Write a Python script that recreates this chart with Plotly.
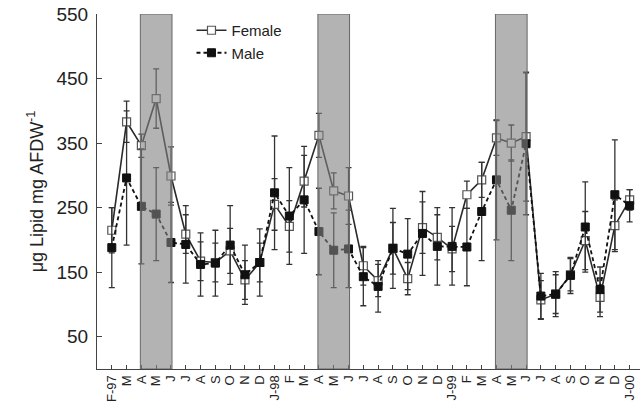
import plotly.graph_objects as go

months = ["F-97","M","A","M","J","J","A","S","O","N","D","J-98",
          "F","M","A","M","J","J","A","S","O","N","D","J-99",
          "F","M","A","M","J","J","A","S","O","N","D","J-00"]

female = [215, 383, 346, 419, 299, 209, 167, 165, 183, 138, 165, 255,
          221, 291, 362, 276, 268, 160, 137, 187, 140, 219, 204, 186,
          270, 293, 358, 350, 360, 107, 116, 146, 199, 111, 222, 262]
female_err = [35, 32, 18, 46, 45, 30, 30, 30, 35, 30, 30, 40,
              40, 40, 34, 28, 44, 30, 25, 40, 25, 40, 35, 35,
              21, 27, 27, 28, 100, 30, 30, 25, 45, 30, 40, 16]

male = [188, 296, 252, 240, 196, 193, 162, 164, 192, 146, 165, 273,
        237, 262, 213, 184, 186, 143, 128, 187, 178, 210, 190, 190,
        189, 244, 293, 246, 349, 113, 116, 145, 220, 123, 270, 253]
male_err = [62, 104, 89, 72, 62, 60, 49, 51, 61, 46, 52, 88,
            75, 83, 67, 58, 60, 45, 40, 62, 55, 65, 60, 60,
            60, 76, 93, 78, 110, 35, 35, 28, 70, 35, 85, 25]

# shaded periods (index of first and last month)
shaded = [(2, 4), (14, 16), (26, 28)]

x = list(range(len(months)))
font_family = "Arial, Liberation Sans, sans-serif"

fig = go.Figure()
fig.add_trace(go.Scatter(
    x=x, y=female, name="Female", mode="lines+markers",
    line=dict(color="#2a2a2a", width=1.6),
    marker=dict(symbol="square", size=8, color="white",
                line=dict(color="#555555", width=1.2)),
    error_y=dict(type="data", array=female_err, visible=True,
                 color="#333333", thickness=1.3, width=3),
))
fig.add_trace(go.Scatter(
    x=x, y=male, name="Male", mode="lines+markers",
    line=dict(color="#111111", width=1.8, dash="4px,3px"),
    marker=dict(symbol="square", size=8, color="#111111",
                line=dict(color="#111111", width=1)),
    error_y=dict(type="data", array=male_err, visible=True,
                 color="#333333", thickness=1.3, width=3),
))

for a, b in shaded:
    fig.add_shape(type="rect", xref="x", yref="y",
                  x0=a - 0.07, x1=b + 0.07, y0=0, y1=550,
                  fillcolor="rgba(128,128,128,0.6)",
                  line=dict(color="#666666", width=1), layer="above")

fig.update_layout(
    width=643, height=410,
    margin=dict(l=97, r=3, t=14, b=41),
    plot_bgcolor="white", paper_bgcolor="white",
    font=dict(family=font_family, color="#222222"),
    showlegend=True,
    legend=dict(x=0.174, y=1.0, xanchor="left", yanchor="top",
                bgcolor="rgba(0,0,0,0)", font=dict(size=15),
                itemwidth=30, tracegroupgap=0),
    xaxis=dict(range=[-1, 35.7], tickmode="array", tickvals=x,
               ticktext=months, tickangle=-90, ticks="inside",
               ticklen=4, tickcolor="#444444", showgrid=False,
               zeroline=False, showline=True, linecolor="#444444",
               linewidth=1.2, tickfont=dict(size=13), automargin=False),
    yaxis=dict(range=[0, 550], tickmode="array",
               tickvals=[50, 150, 250, 350, 450, 550], ticks="inside",
               ticklen=5, tickcolor="#444444", showgrid=False,
               zeroline=False, showline=True, linecolor="#444444",
               linewidth=1.2, tickfont=dict(size=19), automargin=False,
               ticklabelstandoff=4,
               title=dict(text="μg Lipid mg AFDW<sup>-1</sup>",
                          font=dict(size=18), standoff=8)),
)

fig.write_html("out.html", config={"displayModeBar": False},
               post_script="document.body.style.margin='0px';document.body.style.overflow='hidden';")
